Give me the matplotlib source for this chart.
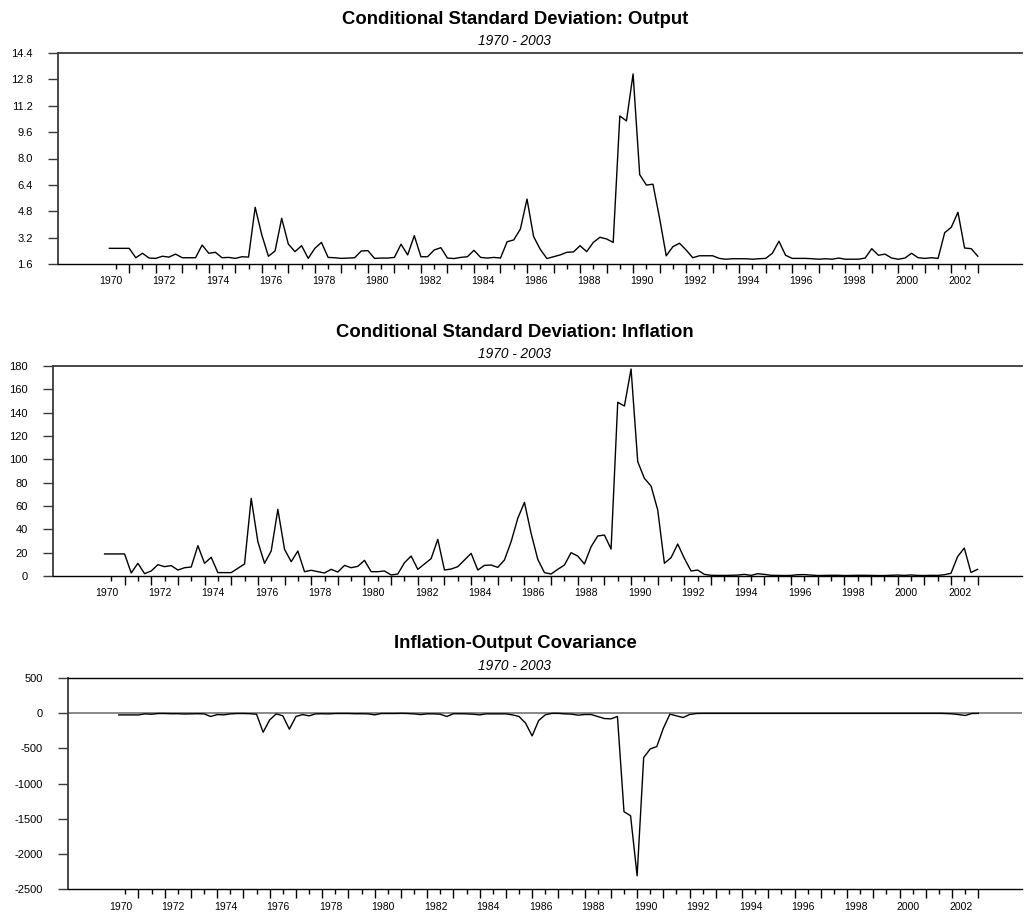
import numpy as np
import matplotlib
matplotlib.use("Agg")
import matplotlib.pyplot as plt

plt.rcParams['font.family'] = ['Liberation Sans', 'DejaVu Sans']

# ---------------- data (quarterly, 1970Q1 .. 2002Q4) ----------------
start_year = 1970
n_quarters = 132

output_sd = [
    2.55, 2.55, 2.55, 2.55, 1.98, 2.25, 1.96, 1.94, 2.07, 2.02,
    2.20, 1.98, 1.98, 1.98, 2.75, 2.25, 2.31, 1.98, 2.00, 1.94,
    2.04, 2.02, 5.04, 3.36, 2.07, 2.39, 4.37, 2.81, 2.35, 2.71,
    1.94, 2.55, 2.91, 2.00, 1.98, 1.94, 1.96, 1.98, 2.39, 2.41,
    1.94, 1.96, 1.96, 2.00, 2.80, 2.15, 3.32, 2.04, 2.04, 2.45,
    2.59, 1.96, 1.93, 2.00, 2.04, 2.43, 2.00, 1.96, 2.00, 1.96,
    2.95, 3.06, 3.72, 5.54, 3.26, 2.49, 1.93, 2.04, 2.15, 2.31,
    2.33, 2.71, 2.35, 2.91, 3.22, 3.12, 2.91, 10.58, 10.28, 13.13,
    7.02, 6.39, 6.44, 4.37, 2.10, 2.65, 2.86, 2.45, 1.98, 2.10,
    2.10, 2.10, 1.94, 1.89, 1.92, 1.92, 1.92, 1.89, 1.92, 1.94,
    2.25, 2.98, 2.13, 1.94, 1.94, 1.94, 1.92, 1.89, 1.92, 1.89,
    1.96, 1.89, 1.89, 1.89, 1.96, 2.53, 2.13, 2.20, 1.96, 1.89,
    1.96, 2.25, 1.98, 1.94, 1.98, 1.94, 3.50, 3.83, 4.74, 2.57,
    2.53, 2.07,
]

inflation_sd = [
    18.9, 18.9, 18.9, 18.9, 2.6, 10.9, 2.0, 4.3, 9.7, 8.0,
    8.9, 5.1, 7.1, 7.7, 26.0, 10.9, 16.0, 2.9, 2.9, 2.9,
    6.6, 10.3, 66.6, 29.4, 10.9, 21.4, 57.1, 22.9, 12.3, 21.4,
    3.7, 4.9, 3.7, 2.6, 5.7, 3.4, 9.1, 7.1, 8.3, 13.4,
    3.7, 3.7, 4.3, 0.9, 1.7, 11.4, 17.1, 5.7, 10.3, 14.9,
    31.4, 5.1, 6.0, 8.0, 13.7, 19.4, 5.1, 9.1, 9.4, 7.4,
    13.7, 29.4, 49.4, 63.1, 36.6, 14.3, 2.9, 1.7, 5.7, 9.4,
    20.0, 17.1, 10.3, 25.1, 34.3, 35.1, 23.1, 148.9, 145.7, 177.4,
    98.0, 83.7, 77.1, 56.6, 10.9, 15.7, 27.4, 15.1, 4.3, 5.1,
    1.4, 0.6, 0.5, 0.5, 0.6, 0.8, 1.4, 0.5, 2.0, 1.4,
    0.6, 0.5, 0.4, 0.5, 1.1, 1.2, 0.8, 0.4, 0.5, 0.6,
    0.6, 0.4, 0.5, 0.6, 0.6, 0.5, 0.4, 0.4, 0.6, 0.8,
    0.5, 0.9, 0.5, 0.4, 0.6, 0.5, 1.1, 2.3, 16.6, 24.0,
    3.0, 5.7,
]

covariance = [
    -25, -25, -25, -25, -10, -15, -5, -5, -8, -8,
    -12, -10, -8, -10, -47, -20, -24, -10, -5, -5,
    -8, -15, -271, -95, -10, -38, -228, -47, -20, -38,
    -10, -8, -10, -5, -5, -5, -8, -8, -10, -24,
    -5, -5, -5, -3, -5, -10, -20, -10, -10, -15,
    -47, -8, -8, -10, -15, -24, -10, -10, -10, -10,
    -24, -47, -142, -323, -104, -24, -3, -3, -10, -14,
    -28, -19, -19, -47, -76, -81, -47, -1401, -1458, -2312,
    -631, -508, -475, -214, -14, -38, -62, -19, -5, -3,
    -3, -3, -3, -3, -3, -3, -3, -3, -3, -3,
    -3, -3, -3, -3, -3, -3, -3, -3, -3, -3,
    -3, -3, -3, -3, -3, -3, -3, -3, -3, -3,
    -3, -3, -3, -3, -3, -3, -5, -10, -20, -33,
    -5, -3,
]

titles = ["Conditional Standard Deviation: Output",
          "Conditional Standard Deviation: Inflation",
          "Inflation-Output Covariance"]
subtitle = "1970 - 2003"
year_labels = [str(y) for y in range(1970, 2003, 2)]

# ---------------- figure ----------------
W, H = 1025, 916
fig = plt.figure(figsize=(W / 100, H / 100), dpi=100)

t = start_year + np.arange(n_quarters) / 4.0
xlim = (1968.065, 2004.415)

panels = [
    dict(data=output_sd, left=58, top=53, bottom=264,
         yticks=np.arange(1.6, 14.41, 1.6), ylim=(1.6, 14.4), fmt="{:.1f}"),
    dict(data=inflation_sd, left=53, top=366, bottom=576,
         yticks=np.arange(0, 181, 20), ylim=(0, 180), fmt="{:.0f}"),
    dict(data=covariance, left=68, top=678, bottom=889,
         yticks=np.arange(-2500, 501, 500), ylim=(-2500, 500), fmt="{:.0f}"),
]

right_px = 1022
title_cx = 515
label_pos = [int(y) + 0.075 for y in year_labels]
long_ticks = [y + 0.75 for y in range(1970, 2003)]
short_ticks = [y + 0.25 for y in range(1970, 2003)]

for k, p in enumerate(panels):
    ax = fig.add_axes([p['left'] / W, 1 - p['bottom'] / H,
                       (right_px - p['left']) / W, (p['bottom'] - p['top']) / H])
    ax.plot(t, p['data'], color='black', lw=1.0, zorder=3)
    ax.set_xlim(*xlim)
    ax.set_ylim(*p['ylim'])

    ax.spines['right'].set_visible(False)
    ax.spines['top'].set_color('#3a3a3a')
    ax.spines['top'].set_linewidth(1.3)
    ax.spines['left'].set_color('#3a3a3a')
    ax.spines['left'].set_linewidth(1.3)
    ax.spines['bottom'].set_color('black')
    ax.spines['bottom'].set_linewidth(1.0)

    ax.set_yticks(p['yticks'])
    ax.set_yticklabels([p['fmt'].format(v) for v in p['yticks']])
    ax.tick_params(axis='y', direction='out', length=7, width=1.0,
                   color='#3a3a3a', pad=11, labelsize=8)

    # year labels (no tick mark)
    ax.set_xticks(label_pos)
    ax.set_xticklabels(year_labels)
    ax.tick_params(axis='x', which='major', length=0, pad=9, labelsize=7.5)
    # year-end ticks (long)
    ax.set_xticks(long_ticks, minor=True)
    ax.tick_params(axis='x', which='minor', direction='out', length=6.5,
                   width=1.0, color='black')
    # mid-year ticks (short)
    sec = ax.secondary_xaxis('bottom')
    sec.set_xticks(short_ticks)
    sec.set_xticklabels([])
    sec.tick_params(axis='x', direction='out', length=3.5, width=1.0, color='black')
    sec.spines['bottom'].set_visible(False)

    if k == 2:
        ax.axhline(0, color='#808080', lw=1.3, zorder=2)
        ax.spines['top'].set_color('black')
        ax.spines['top'].set_linewidth(1.0)

    fig.text(title_cx / W, 1 - (p['top'] - 34) / H, titles[k], ha='center',
             va='center', fontsize=13.3, fontweight='bold')
    fig.text(title_cx / W, 1 - (p['top'] - 12) / H, subtitle, ha='center',
             va='center', fontsize=9.8, fontstyle='italic')

fig.savefig("out.png", dpi=100)
